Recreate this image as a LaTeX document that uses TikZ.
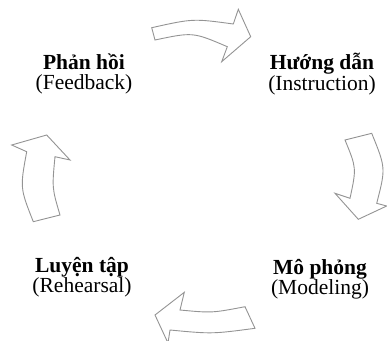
\documentclass[tikz,border=0pt]{standalone}
\usepackage{fontspec}
\setmainfont{Liberation Serif}
\begin{document}
\begin{tikzpicture}[x=1pt,y=-1pt,
  blockarrow/.style={draw=black!42,fill=white,line width=0.9pt,line join=miter},
  label/.style={align=center,inner sep=0pt,font=\fontsize{21.5}{20.5}\selectfont}]
\useasboundingbox (0,0) rectangle (387,340);
% labels
\node[label] (fb)  at (84,74)  {\textbf{Phản hồi}\\(Feedback)};
\node[label] (ins) at (322,74) {\textbf{Hướng dẫn}\\(Instruction)};
\node[label] (reh) at (82,277) {\textbf{Luyện tập}\\(Rehearsal)};
\node[label] (mod) at (320,279) {\textbf{Mô phỏng}\\(Modeling)};
% top arrow (Feedback -> Instruction)
\draw[blockarrow] (151.7,27.7) .. controls (193,18.5) .. (233.3,24)
  -- (238.3,9.3) -- (250.7,36.7) -- (221.7,61.7) -- (227.3,46.7)
  .. controls (193,32) .. (155,40) -- cycle;
% right arrow (Instruction -> Modeling)
\draw[blockarrow] (345,140) -- (371.7,133.3) .. controls (385.8,168) .. (376.7,203.3)
  -- (386.7,206) -- (358.3,219.3) -- (335,193.3) -- (350,198.3)
  .. controls (356.5,168) .. (345,140) -- cycle;
% bottom arrow (Modeling -> Rehearsal)
\draw[blockarrow] (255,328.3) -- (245,306.7) .. controls (212,313) .. (180,310)
  -- (184.3,292.3) -- (155,315) -- (168,343) -- (170,330)
  .. controls (212,334) .. (255,328.3) -- cycle;
% left arrow (Rehearsal -> Feedback)
\draw[blockarrow] (60,215) -- (33.3,221.7) .. controls (20,188) .. (26.7,151.7)
  -- (11.7,145) -- (46.7,135) -- (70,160) -- (55,156.7)
  .. controls (52,188) .. (60,215) -- cycle;
\end{tikzpicture}
\end{document}
